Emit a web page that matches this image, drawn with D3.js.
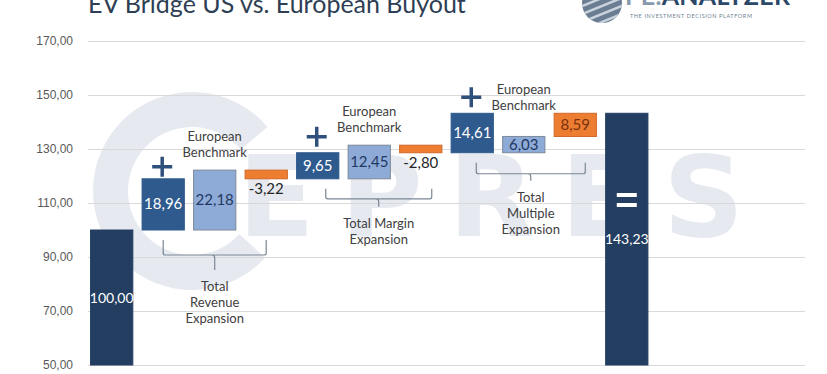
<!DOCTYPE html>
<html>
<head>
<meta charset="utf-8">
<script src="https://cdn.jsdelivr.net/npm/d3@7"></script>
<style>
  body { margin: 0; background: #fff; }
  svg { display: block; font-family: Lato, "Open Sans", sans-serif; }
  .tick text { fill: #595959; font-size: 12px; }
  .tick line { stroke: #d9d9d9; }
</style>
</head>
<body>
<div id="vis"></div>
<script>
// chart data
var categories = ['Start', 'US Revenue', 'EU Revenue', 'Delta Revenue',
                  'US Margin', 'EU Margin', 'Delta Margin',
                  'US Multiple', 'EU Multiple', 'Delta Multiple', 'End'];
var kinds = ['total', 'us', 'eu', 'delta', 'us', 'eu', 'delta', 'us', 'eu', 'delta', 'total'];
var values = [100.00, 18.96, 22.18, -3.22, 9.65, 12.45, -2.80, 14.61, 6.03, 8.59, 143.23];
var yTicks = [50, 70, 90, 110, 130, 150, 170];
var groupLabels = [['Total', 'Revenue', 'Expansion'],
                   ['Total Margin', 'Expansion'],
                   ['Total', 'Multiple', 'Expansion']];
var benchmarkLabel = ['European', 'Benchmark'];
var title = 'EV Bridge US vs. European Buyout';

var width = 827, height = 374;
var margin = { left: 88, right: 22, top: 41, bottom: 9 };

var svg = d3.select('#vis').append('svg')
            .attr('width', width)
            .attr('height', height);

var fmt = (v) => d3.format('.2f')(v).replace('.', ',').replace('\u2212', '-');

var yScale = d3.scaleLinear().domain([50, 170]).range([height - margin.bottom, margin.top]);
var yMin = yScale.domain()[0];

// waterfall stacking
var rows = [];
var running = 0, euEnd = 0;
values.forEach((v, i) => {
    var k = kinds[i];
    var r = { key: categories[i], kind: k, value: v, group: Math.floor((i - 1) / 3) };
    if (k === 'total') { r.y0 = yMin; r.y1 = v; running = v; }
    else if (k === 'us') { r.y0 = running; r.y1 = running + v; }
    else if (k === 'eu') { r.y0 = running; r.y1 = running + v; euEnd = r.y1; }
    else { r.y0 = euEnd; r.y1 = euEnd + v; running = r.y1; }
    rows.push(r);
});

var xScale = d3.scaleBand()
               .domain(categories.concat(['p1', 'p2', 'p3']))
               .range([margin.left, width - margin.right])
               .paddingInner(0.16)
               .paddingOuter(0.04);
var bw = xScale.bandwidth();

// watermark
var wm = svg.append('g').attr('fill', '#e6eaf0');
wm.append('path')
  .attr('transform', 'translate(192,191)')
  .attr('d', d3.arc()({ innerRadius: 64, outerRadius: 99,
                        startAngle: 2.31, endAngle: 7.15 }));
wm.append('text')
  .attr('x', 238).attr('y', 236)
  .attr('font-family', '"DejaVu Sans", sans-serif')
  .attr('font-size', 112).attr('font-weight', 'bold')
  .attr('letter-spacing', 26)
  .text('EPRES');

// gridlines + axis labels
var yAxis = d3.axisLeft(yScale)
              .tickValues(yTicks)
              .tickFormat(fmt)
              .tickSize(-(width - margin.left - margin.right))
              .tickPadding(15);
var yAxisG = svg.append('g')
                .attr('transform', `translate(${margin.left},0)`)
                .call(yAxis);
yAxisG.select('.domain').remove();

// title
svg.append('text')
   .attr('x', 88).attr('y', 13)
   .attr('font-size', 25)
   .attr('fill', '#2e3f55')
   .text(title);

// logo
var logo = svg.append('g');
logo.append('clipPath').attr('id', 'globe')
    .append('circle').attr('cx', 602).attr('cy', 3).attr('r', 20);
logo.append('circle').attr('cx', 602).attr('cy', 3).attr('r', 20).attr('fill', '#6a7d92');
[-14, -6, 2, 10, 18].forEach((o) => {
    logo.append('line')
        .attr('clip-path', 'url(#globe)')
        .attr('x1', 580).attr('y1', 3 + o + 10)
        .attr('x2', 624).attr('y2', 3 + o - 8)
        .attr('stroke', '#c9d3dd').attr('stroke-width', 2.5);
});
var lt = logo.append('text').attr('x', 625).attr('y', 5)
             .attr('font-size', 25).attr('font-weight', 'bold')
             .attr('textLength', 165);
lt.append('tspan').attr('fill', '#8799ab').text('PE.');
lt.append('tspan').attr('fill', '#2b4868').text('ANALYZER');
logo.append('text').attr('x', 791).attr('y', 0).attr('font-size', 8)
    .attr('fill', '#2b4868').text('®');
logo.append('text').attr('x', 630).attr('y', 18)
    .attr('font-size', 5.5).attr('fill', '#6f7f90')
    .attr('textLength', 122)
    .text('THE INVESTMENT DECISION PLATFORM');

// bars
var fills = { total: '#243e62', us: '#2f5a8e', eu: '#8eaad6', delta: '#ed7d31' };
var strokes = { total: '#243e62', us: '#2f5a8e', eu: '#7d8a9a', delta: '#d0682a' };
var textColors = { total: '#ffffff', us: '#ffffff', eu: '#1f3864', delta: '#7a3210' };

var g = svg.append('g');
g.selectAll('rect.bar')
 .data(rows)
 .enter()
 .append('rect')
 .attr('class', 'bar')
 .attr('x', (d) => xScale(d.key) + 0.5)
 .attr('y', (d) => yScale(Math.max(d.y0, d.y1)))
 .attr('width', bw - 1)
 .attr('height', (d) => Math.abs(yScale(d.y0) - yScale(d.y1)))
 .attr('fill', (d) => fills[d.kind])
 .attr('stroke', (d) => strokes[d.kind])
 .attr('stroke-width', 1);

// value labels
g.selectAll('text.val')
 .data(rows)
 .enter()
 .append('text')
 .attr('class', 'val')
 .attr('x', (d) => xScale(d.key) + bw / 2)
 .attr('y', (d) => d.value < 0
        ? yScale(Math.min(d.y0, d.y1)) + 15
        : (yScale(d.y0) + yScale(d.y1)) / 2 + 5)
 .attr('text-anchor', 'middle')
 .attr('font-size', (d) => d.kind === 'total' ? 14 : 15)
 .attr('fill', (d) => d.value < 0 ? '#262626' : textColors[d.kind])
 .text((d) => fmt(d.value));

// plus and equals signs
var usRows = rows.filter((d) => d.kind === 'us');
usRows.forEach((d) => {
    var cx = xScale(d.key) + bw / 2 - 1;
    var cy = yScale(d.y1) - (d.group === 0 ? 12 : 16);
    g.append('path')
     .attr('d', `M${cx - 10},${cy}H${cx + 10}M${cx},${cy - 10}V${cy + 10}`)
     .attr('stroke', '#2f4f7c').attr('stroke-width', 3.5);
});
var endRow = rows[rows.length - 1];
var ex = xScale(endRow.key) + bw / 2;
[-5, 5].forEach((o) => {
    g.append('rect')
     .attr('x', ex - 10).attr('y', 200 + o - 2)
     .attr('width', 20).attr('height', 4)
     .attr('fill', '#ffffff');
});

// benchmark labels and braces
var benchOffset = [13, 13, 26];
var braceShift = [[0, 0], [8, 11], [4, 10]];
var braceHook = [15, 10, 11];
var braceTick = [15, 8, 7];
rows.filter((d) => d.kind === 'eu').forEach((d, i) => {
    var cx = xScale(d.key) + bw / 2;
    benchmarkLabel.forEach((t, j) => {
        g.append('text')
         .attr('x', cx).attr('y', yScale(d.y1) - benchOffset[i] - (1 - j) * 16)
         .attr('text-anchor', 'middle')
         .attr('font-size', 13).attr('fill', '#404040')
         .text(t);
    });

    var us = usRows[i];
    var delta = rows.filter((r) => r.kind === 'delta')[i];
    var x0 = xScale(us.key) + bw / 2 + braceShift[i][0];
    var x1 = xScale(delta.key) + bw / 2 + braceShift[i][1];
    var top = yScale(us.y0) + 10;
    var mid = top + braceHook[i];
    var xm = (x0 + x1) / 2;
    g.append('path')
     .attr('d', `M${x0},${top}V${mid - 2}Q${x0},${mid} ${x0 + 2},${mid}H${x1 - 2}Q${x1},${mid} ${x1},${mid - 2}V${top}` +
                `M${xm - 3},${mid}Q${xm},${mid} ${xm},${mid + 3}V${mid + braceTick[i]}`)
     .attr('fill', 'none')
     .attr('stroke', '#7a8694').attr('stroke-width', 1.2);

    groupLabels[i].forEach((t, j) => {
        g.append('text')
         .attr('x', xm).attr('y', mid + braceTick[i] + 21 + j * 16)
         .attr('text-anchor', 'middle')
         .attr('font-size', 13).attr('fill', '#404040')
         .text(t);
    });
});
</script>
</body>
</html>
